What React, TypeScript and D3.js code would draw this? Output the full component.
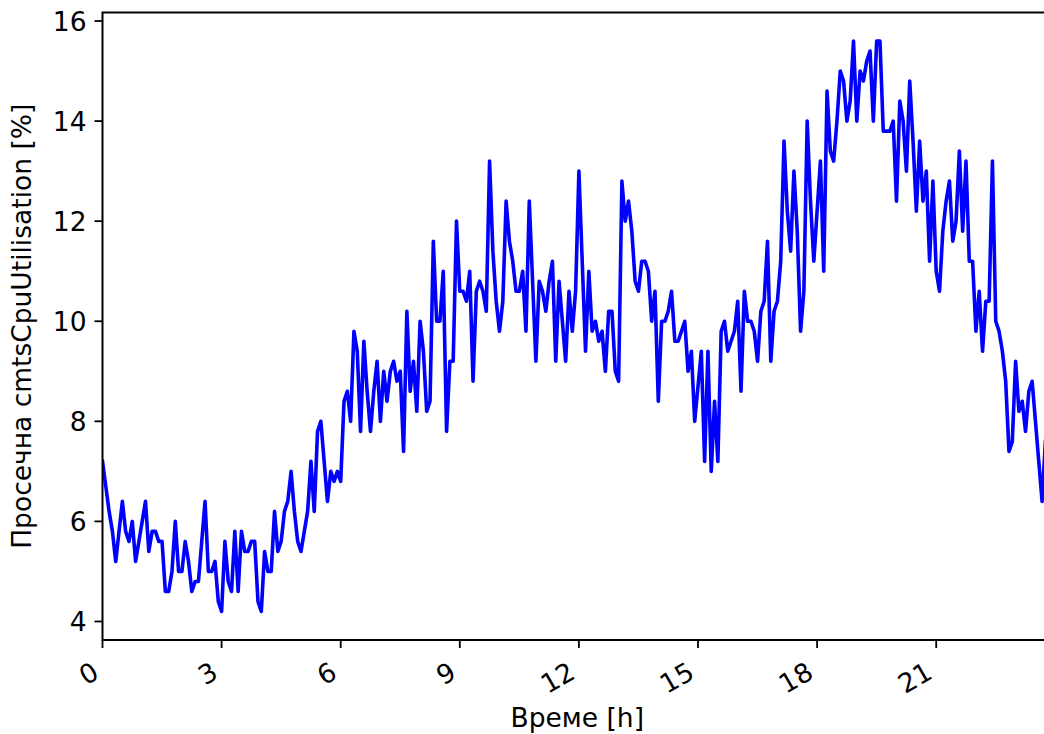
import React from "react";
import * as d3 from "d3";

// Average CPU utilisation, one sample every 5 minutes, starting at 00:00
const sampleStepHours = 5 / 60;
const cpuValues: number[] = [
  7.2, 6.7, 6.2, 5.8, 5.2, 5.8, 6.4, 5.8, 5.6, 6.0,
  5.2, 5.6, 6.0, 6.4, 5.4, 5.8, 5.8, 5.6, 5.6, 4.6,
  4.6, 5.0, 6.0, 5.0, 5.0, 5.6, 5.2, 4.6, 4.8, 4.8,
  5.6, 6.4, 5.0, 5.0, 5.2, 4.4, 4.2, 5.6, 4.8, 4.6,
  5.8, 4.6, 5.8, 5.4, 5.4, 5.6, 5.6, 4.4, 4.2, 5.4,
  5.0, 5.0, 6.2, 5.4, 5.6, 6.2, 6.4, 7.0, 6.2, 5.6,
  5.4, 5.8, 6.2, 7.2, 6.2, 7.8, 8.0, 7.2, 6.4, 7.0,
  6.8, 7.0, 6.8, 8.4, 8.6, 8.0, 9.8, 9.4, 7.8, 9.6,
  8.6, 7.8, 8.6, 9.2, 8.0, 9.0, 8.4, 9.0, 9.2, 8.8,
  9.0, 7.4, 10.2, 8.6, 9.2, 8.2, 10.0, 9.4, 8.2, 8.4,
  11.6, 10.0, 10.0, 11.0, 7.8, 9.2, 9.2, 12.0, 10.6, 10.6,
  10.4, 11.0, 8.8, 10.6, 10.8, 10.6, 10.2, 13.2, 11.4, 10.4,
  9.8, 10.4, 12.4, 11.6, 11.2, 10.6, 10.6, 11.0, 9.8, 12.4,
  10.8, 9.2, 10.8, 10.6, 10.2, 10.8, 11.2, 9.2, 10.8, 10.0,
  9.2, 10.6, 9.8, 10.6, 13.0, 11.2, 9.4, 11.0, 9.8, 10.0,
  9.6, 9.8, 9.0, 10.2, 10.2, 9.0, 8.8, 12.8, 12.0, 12.4,
  11.8, 10.8, 10.6, 11.2, 11.2, 11.0, 10.0, 10.6, 8.4, 10.0,
  10.0, 10.2, 10.6, 9.6, 9.6, 9.8, 10.0, 9.0, 9.4, 8.0,
  8.7, 9.4, 7.2, 9.4, 7.0, 8.4, 7.2, 9.8, 10.0, 9.4,
  9.6, 9.8, 10.4, 8.6, 10.6, 10.0, 10.0, 9.8, 9.2, 10.2,
  10.4, 11.6, 9.2, 10.2, 10.4, 11.2, 13.6, 12.2, 11.4, 13.0,
  11.8, 9.8, 10.6, 14.0, 12.4, 11.2, 12.2, 13.2, 11.0, 14.6,
  13.4, 13.2, 14.0, 15.0, 14.8, 14.0, 14.4, 15.6, 14.0, 15.0,
  14.8, 15.2, 15.4, 14.0, 15.6, 15.6, 13.8, 13.8, 13.8, 14.0,
  12.4, 14.4, 14.0, 13.0, 14.8, 13.6, 12.2, 13.6, 12.4, 13.0,
  11.2, 12.8, 11.0, 10.6, 11.8, 12.4, 12.8, 11.6, 12.0, 13.4,
  11.8, 13.2, 11.2, 11.2, 9.8, 10.6, 9.4, 10.4, 10.4, 13.2,
  10.0, 9.8, 9.4, 8.8, 7.4, 7.6, 9.2, 8.2, 8.4, 7.8,
  8.6, 8.8, 8.0, 7.2, 6.4, 7.6,
];

const xTicks = [0, 3, 6, 9, 12, 15, 18, 21];
const yTicks = [4, 6, 8, 10, 12, 14, 16];
const xLabel = "Време [h]";
const yLabel = "Просечна cmtsCpuUtilisation [%]";

const W = 1044;
const H = 734;
const FONT = "'DejaVu Sans', sans-serif";
const FS = 26.5;

export default function App() {
  const left = 102.5;
  const right = 1052;
  const top = 12.5;
  const bottom = 640;
  const lastHour = 287 * sampleStepHours;

  const x = d3.scaleLinear().domain([0, lastHour]).range([left, right]);
  const yMin = d3.min(cpuValues)!;
  const yMax = d3.max(cpuValues)!;
  const pad = (yMax - yMin) * 0.05;
  const y = d3.scaleLinear().domain([yMin - pad, yMax + pad]).range([bottom, top]);

  const line = d3
    .line<number>()
    .x((_, i) => x(i * sampleStepHours))
    .y((d) => y(d));

  const tickLen = 8;
  const tickPad = 8;

  return (
    <svg
      width={W}
      height={H}
      style={{ position: "absolute", left: 0, top: 0, background: "#fff" }}
      fontFamily={FONT}
    >
      <rect x={0} y={0} width={W} height={H} fill="#fff" />
      <defs>
        <clipPath id="plotclip">
          <rect x={left} y={top} width={right - left} height={bottom - top} />
        </clipPath>
      </defs>
      <path
        d={line(cpuValues) || ""}
        fill="none"
        stroke="#0000ff"
        strokeWidth={3.6}
        strokeLinejoin="round"
        strokeLinecap="square"
        clipPath="url(#plotclip)"
      />
      {/* spines */}
      <rect
        x={left}
        y={top}
        width={right - left}
        height={bottom - top}
        fill="none"
        stroke="#000"
        strokeWidth={2}
      />
      {/* y ticks */}
      {yTicks.map((t) => (
        <g key={"y" + t}>
          <line x1={left - tickLen} x2={left} y1={y(t)} y2={y(t)} stroke="#000" strokeWidth={1.8} />
          <text
            x={left - tickLen - tickPad}
            y={y(t)}
            textAnchor="end"
            dominantBaseline="central"
            fontSize={FS}
            fill="#000"
          >
            {t}
          </text>
        </g>
      ))}
      {/* x ticks */}
      {xTicks.map((t) => {
        const tx = x(t);
        const ax = tx - 2;
        const ay = bottom + tickLen + tickPad + 0.866 * FS * 0.93;
        return (
          <g key={"x" + t}>
            <line x1={tx} x2={tx} y1={bottom} y2={bottom + tickLen} stroke="#000" strokeWidth={1.8} />
            <text
              x={ax}
              y={ay}
              textAnchor="end"
              fontSize={FS}
              fill="#000"
              transform={`rotate(-30, ${ax}, ${ay})`}
            >
              {t}
            </text>
          </g>
        );
      })}
      <text x={(left + right) / 2} y={727} textAnchor="middle" fontSize={FS} fill="#000">
        {xLabel}
      </text>
      <text
        x={31}
        y={(top + bottom) / 2}
        textAnchor="middle"
        fontSize={FS}
        fill="#000"
        transform={`rotate(-90, 31, ${(top + bottom) / 2})`}
      >
        {yLabel}
      </text>
    </svg>
  );
}
